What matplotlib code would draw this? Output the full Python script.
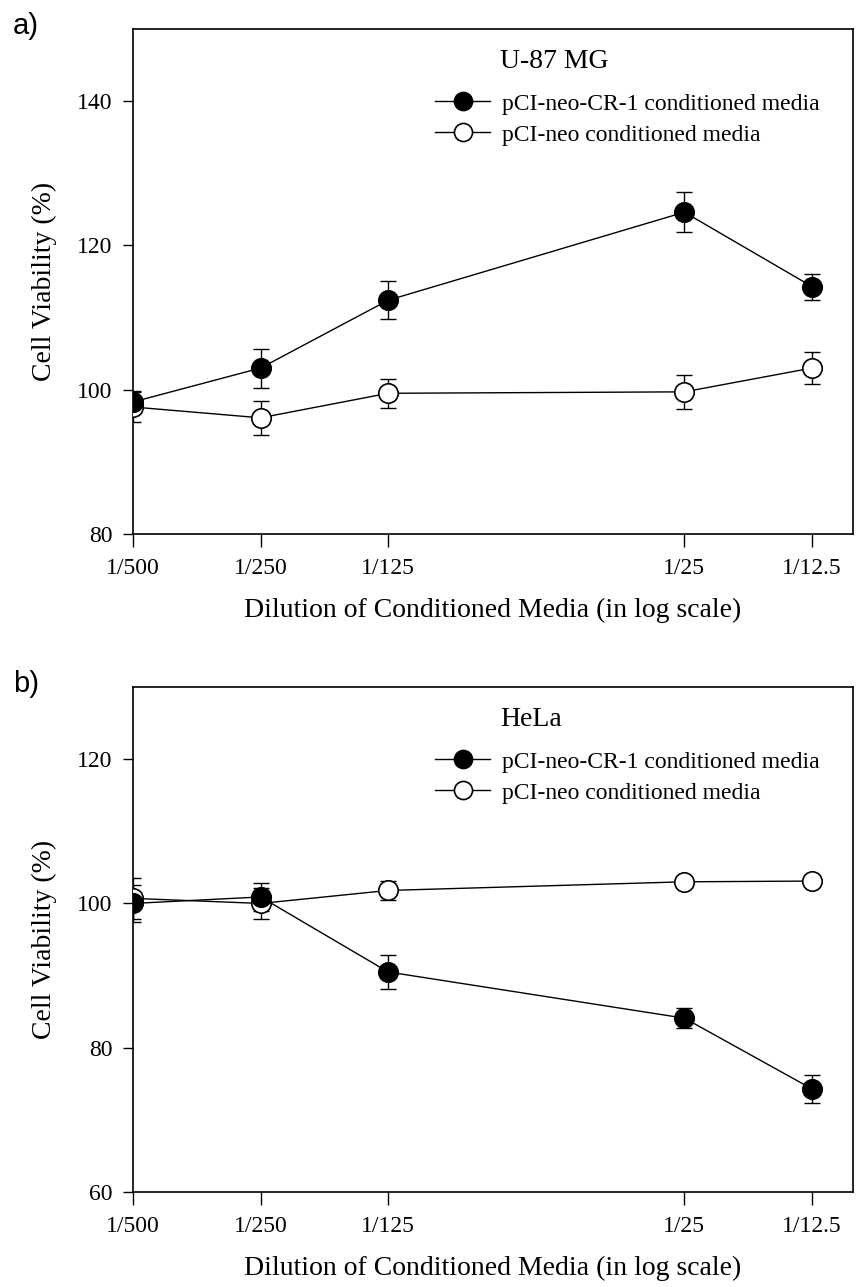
import matplotlib
matplotlib.use("Agg")
import matplotlib.pyplot as plt
from matplotlib.ticker import FixedLocator, NullLocator

# dilution factors (plotted on log scale)
dilutions = [1 / 500, 1 / 250, 1 / 125, 1 / 25, 1 / 12.5]
tick_labels = ["1/500", "1/250", "1/125", "1/25", "1/12.5"]
series_names = ["pCI-neo-CR-1 conditioned media", "pCI-neo conditioned media"]

# panel a: U-87 MG
u87_cr1 = [98.3, 103.0, 112.4, 124.6, 114.3]
u87_cr1_err = [1.5, 2.7, 2.6, 2.8, 1.8]
u87_neo = [97.6, 96.1, 99.5, 99.7, 103.0]
u87_neo_err = [2.1, 2.4, 2.0, 2.4, 2.2]

# panel b: HeLa
hela_cr1 = [100.0, 100.9, 90.5, 84.1, 74.3]
hela_cr1_err = [2.6, 1.9, 2.4, 1.4, 1.9]
hela_neo = [100.7, 100.0, 101.8, 103.0, 103.1]
hela_neo_err = [2.8, 2.1, 1.3, 0.6, 0.6]

SERIF = ["Liberation Serif", "DejaVu Serif"]
plt.rcParams["font.family"] = SERIF

fig = plt.figure(figsize=(8.61, 12.87), dpi=100)
ax_a = fig.add_axes([0.1545, 0.5851, 0.8362, 0.3924])
ax_b = fig.add_axes([0.1545, 0.0738, 0.8362, 0.3924])


def draw_panel(ax, cr1, cr1_err, neo, neo_err, ylim, yticks, cell_line, tag):
    eb = dict(fmt="none", ecolor="black", elinewidth=1.0, capsize=6,
              capthick=1.0)
    ax.errorbar(dilutions, neo, yerr=neo_err, zorder=2, **eb)
    ax.errorbar(dilutions, cr1, yerr=cr1_err, zorder=2, **eb)
    h_neo, = ax.plot(dilutions, neo, color="black", lw=1.0, marker="o",
                     markersize=14, markerfacecolor="white",
                     markeredgecolor="black", markeredgewidth=1.2, zorder=3)
    h_cr1, = ax.plot(dilutions, cr1, color="black", lw=1.0, marker="o",
                     markersize=14, markerfacecolor="black",
                     markeredgecolor="black", markeredgewidth=1.2, zorder=4)

    ax.set_xscale("log")
    ax.set_xlim(0.002, 0.1)
    ax.set_ylim(*ylim)
    ax.xaxis.set_major_locator(FixedLocator(dilutions))
    ax.xaxis.set_minor_locator(NullLocator())
    ax.set_xticklabels(tick_labels)
    ax.set_yticks(yticks)
    ax.tick_params(direction="out", length=7, width=1.0, labelsize=17,
                   pad=8)
    ax.tick_params(axis="x", length=9, pad=8)
    for s in ax.spines.values():
        s.set_linewidth(1.2)

    ax.set_xlabel("Dilution of Conditioned Media (in log scale)",
                  fontsize=20, labelpad=14)
    ax.set_ylabel("Cell Viability (%)", fontsize=20, labelpad=14)

    ax.legend([h_cr1, h_neo], series_names, loc="upper left",
              bbox_to_anchor=(0.42, 0.873), frameon=False, fontsize=17,
              handlelength=2.3, handletextpad=0.5, labelspacing=0.4,
              borderpad=0, borderaxespad=0, markerscale=0.93)

    ax.text(0.51, 0.936, cell_line, transform=ax.transAxes, fontsize=20,
            ha="left", va="center")
    ax.text(-0.167, 1.006, tag, transform=ax.transAxes, fontsize=21,
            family=["Liberation Sans", "DejaVu Sans"], ha="left",
            va="center")


draw_panel(ax_a, u87_cr1, u87_cr1_err, u87_neo, u87_neo_err,
           (80, 150), [80, 100, 120, 140], "U-87 MG", "a)")
draw_panel(ax_b, hela_cr1, hela_cr1_err, hela_neo, hela_neo_err,
           (60, 130), [60, 80, 100, 120], "HeLa", "b)")

fig.savefig("out.png", dpi=100)
